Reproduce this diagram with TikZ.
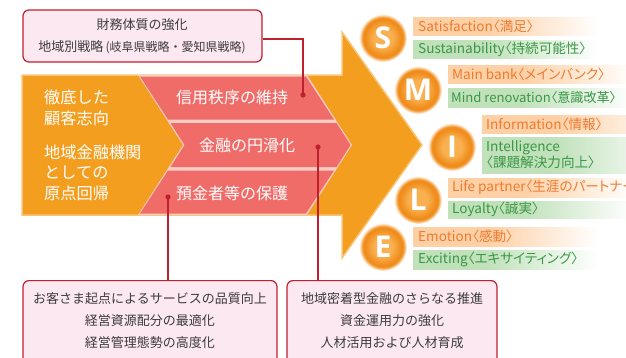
\documentclass[tikz,border=0pt]{standalone}
\usepackage{fontspec}
\setmainfont{Noto Sans CJK JP}
\newfontfamily\labfont[RawFeature=+palt]{Noto Sans CJK JP}
\newfontfamily\letfont{Open Sans}
\definecolor{arrowor}{RGB}{244,158,32}
\definecolor{arrowedge}{RGB}{248,196,120}
\definecolor{bandred}{RGB}{239,108,104}
\definecolor{bandpale}{RGB}{249,204,196}
\definecolor{lineRed}{RGB}{192,32,46}
\definecolor{boxpink}{RGB}{252,232,240}
\definecolor{txtgray}{RGB}{60,60,60}
\definecolor{ortext}{RGB}{240,122,48}
\definecolor{grtext}{RGB}{58,152,70}
\definecolor{orbar}{RGB}{253,208,165}
\definecolor{grbar}{RGB}{192,225,186}
\definecolor{circc}{RGB}{248,176,80}
\definecolor{circe}{RGB}{240,140,26}
\pgfdeclarehorizontalshading{obarsh}{100bp}{color(0bp)=(orbar); color(25bp)=(orbar); color(45bp)=(orbar); color(75bp)=(white); color(100bp)=(white)}
\pgfdeclarehorizontalshading{gbarsh}{100bp}{color(0bp)=(grbar); color(25bp)=(grbar); color(45bp)=(grbar); color(75bp)=(white); color(100bp)=(white)}
\pgfdeclareradialshading{glowsh}{\pgfpoint{0bp}{0bp}}{color(0bp)=(circc); color(10bp)=(circc); color(19bp)=(circe); color(21bp)=(circe); color(25bp)=(white); color(50bp)=(white)}
\tikzset{
  callout/.style={draw=lineRed, line width=1.2pt, fill=boxpink, rounded corners=6pt, inner sep=0pt},
  boxtxt/.style={text=txtgray, align=center, inner sep=0pt, font=\fontsize{13}{22}\selectfont},
  redtxt/.style={text=white, inner sep=0pt, font=\fontsize{16}{18}\selectfont},
  lefttxt/.style={text=white, inner sep=0pt, align=left, anchor=west, font=\fontsize{16.2}{20.5}\selectfont},
  conn/.style={draw=lineRed, line width=1.2pt},
  dotmark/.style={fill=lineRed},
  smile/.style={circle, minimum size=48pt, inner sep=0pt, shade, shading=glowsh, text=white, font=\letfont\bfseries\fontsize{30}{30}\selectfont},
  obar/.style={shade, shading=obarsh},
  gbar/.style={shade, shading=gbarsh},
  ortxt/.style={text=ortext, anchor=west, inner sep=0pt, font=\labfont\fontsize{13.6}{16}\selectfont},
  grtxt/.style={text=grtext, anchor=west, inner sep=0pt, align=left, font=\labfont\fontsize{13.6}{16}\selectfont},
}
\begin{document}
\begin{tikzpicture}[x=1pt,y=-1pt]
\useasboundingbox (0,0) rectangle (626,357);
\clip (0,0) rectangle (626,357);
% big arrow
\fill[arrowor, draw=arrowedge, line width=1.5pt] (22,75) -- (342,75) -- (342,32) -- (422,145) -- (342,258) -- (342,215) -- (22,215) -- cycle;
% red chevron band
\fill[bandpale] (138,75) -- (307,75) -- (352,145) -- (307,215) -- (138,215) -- (183,145) -- cycle;
\fill[bandred] (140,76.5) -- (306,76.5) -- (334,119.5) -- (168,119.5) -- cycle;
\fill[bandred] (170.5,123) -- (336.5,123) -- (350.5,145) -- (336.5,167) -- (170.5,167) -- (184.5,145) -- cycle;
\fill[bandred] (168,170.5) -- (334,170.5) -- (306,213.5) -- (140,213.5) -- cycle;
% left text
\node[lefttxt] (l1) at (44,108) {徹底した\\顧客志向};
\node[lefttxt] (l2) at (44,172.5) {地域金融機関\\としての\\原点回帰};
% red row text
\node[redtxt] (r1) at (232,97) {信用秩序の維持};
\node[redtxt] (r2) at (247,145) {金融の円滑化};
\node[redtxt] (r3) at (232,193) {預金者等の保護};
% callout boxes
\node[callout, minimum width=239pt, minimum height=52pt] (topbox) at (142.5,36) {};
\node[boxtxt] (toptext) at (142,36.5) {財務体質の強化\\地域別戦略\,{\fontsize{12}{22}\selectfont (岐阜県戦略・愛知県戦略)}};
\node[callout, minimum width=254pt, minimum height=95pt, anchor=north] (blbox) at (150,280) {};
\node[boxtxt] (bltext) at (150,321) {お客さま起点によるサービスの品質向上\\経営資源配分の最適化\\経営管理態勢の高度化};
\node[callout, minimum width=210pt, minimum height=95pt, anchor=north] (brbox) at (392,280) {};
\node[boxtxt] (brtext) at (392,321) {地域密着型金融のさらなる推進\\資金運用力の強化\\人材活用および人材育成};
% connectors
\coordinate (d1) at (303,95);
\coordinate (d2) at (318,147);
\coordinate (d3) at (168,197);
\draw[conn] ([yshift=-3pt]topbox.east) -| (d1);
\draw[conn] (d2) -- (d2 |- brbox.north);
\draw[conn] (d3) -- (d3 |- blbox.north);
\fill[dotmark] (d1) circle (2.6);
\fill[dotmark] (d2) circle (2.6);
\fill[dotmark] (d3) circle (2.6);
% SMILE bars
\path[obar] (413,17) rectangle (598,35);
\path[gbar] (413,40) rectangle (598,58);
\path[obar] (448,65) rectangle (633,83);
\path[gbar] (448,88) rectangle (633,107);
\path[obar] (482,115) rectangle (667,133);
\path[gbar] (482,137) rectangle (667,173);
\path[obar] (448,178) rectangle (633,197);
\path[gbar] (448,201) rectangle (633,218);
\path[obar] (413,227) rectangle (598,246);
\path[gbar] (413,250) rectangle (598,269);
% SMILE texts
\node[ortxt] (tS1) at (418,26) {Satisfaction〈満足〉};
\node[grtxt] (tS2) at (418,49) {Sustainability〈持続可能性〉};
\node[ortxt] (tM1) at (452,74) {Main bank〈メインバンク〉};
\node[grtxt, font=\labfont\fontsize{13.1}{16}\selectfont] (tM2) at (451,97.5) {Mind renovation〈意識改革〉};
\node[ortxt] (tI1) at (486,124) {Information〈情報〉};
\node[grtxt] (tI2) at (486,155) {Intelligence\\〈課題解決力向上〉};
\node[ortxt] (tL1) at (452,187.5) {Life partner〈生涯のパートナー〉};
\node[grtxt] (tL2) at (452,209.5) {Loyalty〈誠実〉};
\node[ortxt] (tE1) at (418,236.5) {Emotion〈感動〉};
\node[grtxt] (tE2) at (418,259.5) {Exciting〈エキサイティング〉};
% SMILE circles
\node[smile] (cS) at (383,38) {S};
\node[smile] (cM) at (418,90) {M};
\node[smile] (cI) at (452,147) {I};
\node[smile] (cL) at (418,200) {L};
\node[smile] (cE) at (383,247) {E};
\end{tikzpicture}
\end{document}
